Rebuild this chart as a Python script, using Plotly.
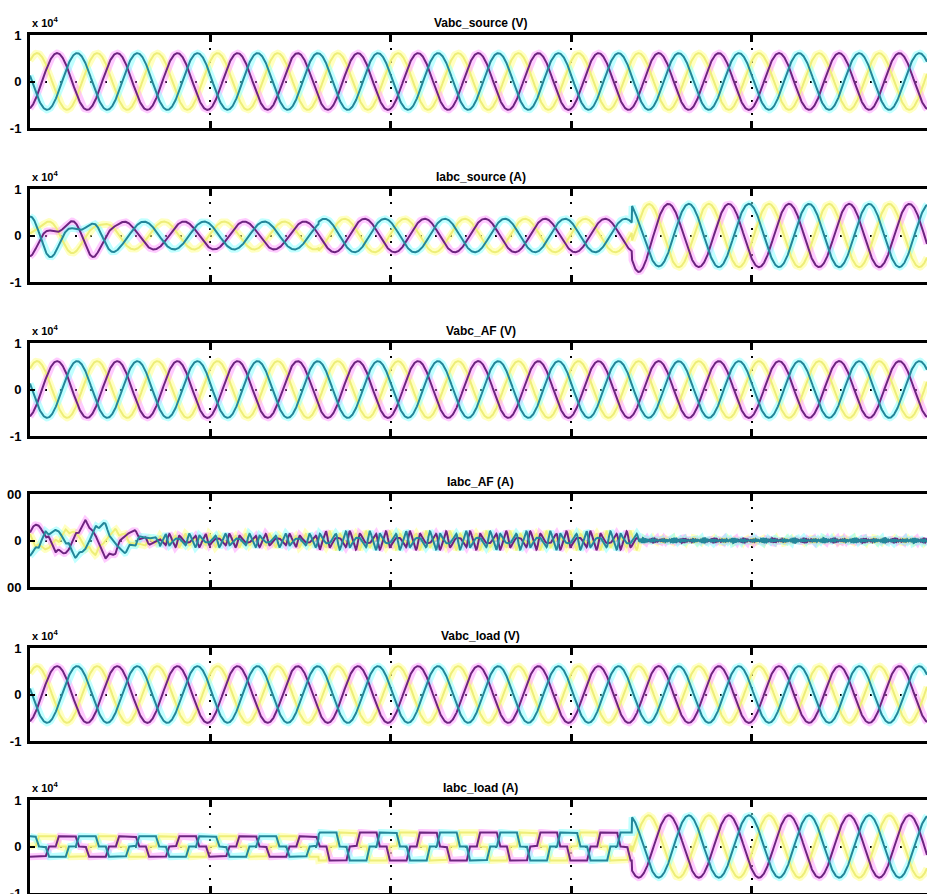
import numpy as np
import plotly.graph_objects as go

# ------------------------------------------------------------------
# Values
# ------------------------------------------------------------------
T_END = 0.2485                      # s, visible end of the time axis
F_GRID = 60                         # Hz (3 cycles per 0.05 s grid cell)
T_STEP = 0.0001
TIME_TICKS = [0.05, 0.10, 0.15, 0.20]

PANEL_TITLES = ["Vabc_source (V)", "Iabc_source (A)", "Vabc_AF (V)",
                "Iabc_AF (A)", "Vabc_load (V)", "Iabc_load (A)"]
PANEL_EXPONENT = ["x 10<sup>4</sup>", "x 10<sup>4</sup>", "x 10<sup>4</sup>",
                  "", "x 10<sup>4</sup>", "x 10<sup>4</sup>"]
Y_TICK_VALS = [-1, 0, 1]
Y_TICK_TEXT = ["-1", "0", "1"]
AF_RANGE = 1000                     # A, Iabc_AF axis limits (labels clipped)
AF_TICK_TEXT = ["00", "0", "00"]

# phase angles at t = 0 (deg) for phase a (yellow), b (magenta), c (cyan)
PHASE_DEG = [48, -72, -192]

# voltages (x 1e4 V) - source, filter and load voltages are identical
V_AMP = 0.61

# source current (x 1e4 A): amplitude / lag per time segment
ISRC_SEG_T = [0.0, 0.080, 0.1668, 0.2485]
ISRC_SEG_AMP = [0.30, 0.36, 0.68]
ISRC_SEG_LAG = [40, 40, 60]
# start-up transient on the source current (per phase amplitude / phase)
ISRC_TR_AMP = [0.10, 0.20, 0.20]
ISRC_TR_PHASE = [180, -60, 60]
ISRC_TR_FREQ = 110
ISRC_TR_ENV_T = [0.0, 0.018, 0.026]
ISRC_TR_ENV = [1.0, 0.8, 0.0]
# small disturbance at the load change
ISRC_SW_T0 = 0.1668
ISRC_SW_AMP = [0.06, 0.18, 0.10]
ISRC_SW_FREQ = 100
ISRC_SW_TAU = 0.004

# load current (x 1e4 A)
ILOAD_SEG_T = [0.0, 0.080, 0.1668, 0.2485]
ILOAD_SEG_AMP = [0.22, 0.30, 0.67]
ILOAD_SEG_KIND = ["step", "step", "sine"]
ILOAD_LAG = 60
# one period of the stepped (six-pulse) load current
STEP_DEG = [0, 22, 38, 142, 158, 202, 218, 322, 338, 360]
STEP_LEVEL = [0, 0, 1, 1, 0, 0, -1, -1, 0, 0]

# active-filter current (A): harmonic ripple and start-up transient
AF_HARM_ORDER = [5, 7, 11, 13]
AF_HARM_AMP = [120, 70, 22, 16]
AF_HARM_PHASE = [180, 180, 0, 0]
AF_RIPPLE_SEG_T = [0.0, 0.036, 0.080, 0.1685, 0.2485]
AF_RIPPLE_SCALE = [0.35, 0.72, 1.0, 0.0]
AF_RESID_ORDER = [23, 25, 29, 31]
AF_RESID_AMP = [20, 18, 12, 10]
AF_RESID_SEG_T = [0.0, 0.1685, 0.2485]
AF_RESID_SCALE = [0.0, 1.0]
AF_TR_AMP = [260, 400, 360]
AF_TR_FREQ = 75
AF_TR_ENV_T = [0.0, 0.006, 0.012, 0.020, 0.028, 0.036]
AF_TR_ENV = [0.9, 0.55, 0.85, 1.0, 0.5, 0.0]

# panel frame positions (pixels from top of the 894 px page)
PANEL_TOP_PX = [35, 189, 343, 494, 648, 800]
PANEL_H_PX = 93

COLOR_HALO = ["rgba(255,255,140,0.55)", "rgba(255,140,255,0.45)", "rgba(130,255,255,0.5)"]
COLOR_CORE = ["#eeee78", "#6e2480", "#23879a"]

# ------------------------------------------------------------------
W, H = 927, 894
t = np.arange(0.0, T_END + T_STEP, T_STEP)
w = 2 * np.pi * F_GRID


def seg_value(seg_t, seg_vals):
    idx = np.clip(np.searchsorted(seg_t, t, side="right") - 1, 0, len(seg_vals) - 1)
    return np.asarray(seg_vals, dtype=float)[idx]


def phase_angle(k):
    return w * t + np.deg2rad(PHASE_DEG[k])


def voltage(k):
    return V_AMP * np.sin(phase_angle(k))


def source_current(k):
    amp = seg_value(ISRC_SEG_T, ISRC_SEG_AMP)
    lag = np.deg2rad(seg_value(ISRC_SEG_T, ISRC_SEG_LAG))
    y = amp * np.sin(phase_angle(k) - lag)
    env = np.interp(t, ISRC_TR_ENV_T, ISRC_TR_ENV)
    y = y + ISRC_TR_AMP[k] * env * np.sin(2 * np.pi * ISRC_TR_FREQ * t
                                          + np.deg2rad(ISRC_TR_PHASE[k]))
    dt = np.clip(t - ISRC_SW_T0, 0, None)
    on = (t >= ISRC_SW_T0)
    y = y - on * ISRC_SW_AMP[k] * np.exp(-dt / ISRC_SW_TAU) * \
        np.sin(2 * np.pi * ISRC_SW_FREQ * dt)
    return y


def load_current(k):
    amp = seg_value(ILOAD_SEG_T, ILOAD_SEG_AMP)
    kind = seg_value(ILOAD_SEG_T, [1.0 if s == "step" else 0.0 for s in ILOAD_SEG_KIND])
    theta = np.rad2deg(phase_angle(k)) - ILOAD_LAG
    stepped = np.interp(np.mod(theta, 360.0), STEP_DEG, STEP_LEVEL)
    sine = np.sin(np.deg2rad(theta))
    return amp * np.where(kind > 0.5, stepped, sine)


def af_current(k):
    theta = phase_angle(k) - np.deg2rad(ILOAD_LAG)
    ripple = sum(a * np.sin(h * theta + np.deg2rad(p))
                 for h, a, p in zip(AF_HARM_ORDER, AF_HARM_AMP, AF_HARM_PHASE))
    resid = sum(a * np.sin(h * theta)
                for h, a in zip(AF_RESID_ORDER, AF_RESID_AMP))
    env = np.interp(t, AF_TR_ENV_T, AF_TR_ENV)
    trans = AF_TR_AMP[k] * env * np.sin(2 * np.pi * AF_TR_FREQ * t + np.deg2rad(PHASE_DEG[k]) + 1.9)
    return (seg_value(AF_RIPPLE_SEG_T, AF_RIPPLE_SCALE) * ripple
            + seg_value(AF_RESID_SEG_T, AF_RESID_SCALE) * resid + trans)


PANEL_SIGNALS = [voltage, source_current, voltage, af_current, voltage, load_current]

fig = go.Figure()
layout = dict(
    width=W, height=H,
    margin=dict(l=30, r=0, t=0, b=0, pad=0, autoexpand=False),
    paper_bgcolor="white", plot_bgcolor="white",
    showlegend=False,
    font=dict(family="Liberation Sans, Arial, sans-serif", color="black"),
    annotations=[],
)

for i, (title, signal) in enumerate(zip(PANEL_TITLES, PANEL_SIGNALS)):
    n = i + 1
    xa = "x" if n == 1 else f"x{n}"
    ya = "y" if n == 1 else f"y{n}"
    top = PANEL_TOP_PX[i]
    bot = top + PANEL_H_PX
    dom = [1 - bot / H, 1 - top / H]
    is_af = signal is af_current
    yr = AF_RANGE if is_af else 1.0

    curves = [signal(k) for k in range(3)]
    for k in range(3):
        fig.add_trace(go.Scatter(x=t, y=curves[k], xaxis=xa, yaxis=ya, mode="lines",
                                 line=dict(color=COLOR_HALO[k], width=7),
                                 hoverinfo="skip"))
    for k in range(3):
        fig.add_trace(go.Scatter(x=t, y=curves[k], xaxis=xa, yaxis=ya, mode="lines",
                                 line=dict(color=COLOR_CORE[k], width=2),
                                 hoverinfo="skip"))

    layout["xaxis" if n == 1 else f"xaxis{n}"] = dict(
        domain=[0, 1], anchor=ya, range=[0, T_END], automargin=False,
        showline=True, linewidth=3, linecolor="black", mirror="ticks",
        ticks="inside", ticklen=7, tickwidth=2.5, tickcolor="black",
        tickvals=TIME_TICKS, showticklabels=False,
        showgrid=True, gridcolor="black", gridwidth=1.6, griddash="2px,11px",
        zeroline=False, fixedrange=True,
    )
    layout["yaxis" if n == 1 else f"yaxis{n}"] = dict(
        domain=dom, anchor=xa, range=[-yr, yr], automargin=False,
        showline=True, linewidth=3, linecolor="black", mirror=False,
        ticks="inside", ticklen=5, tickwidth=2, tickcolor="black",
        tickvals=[v * yr for v in Y_TICK_VALS],
        ticktext=AF_TICK_TEXT if is_af else Y_TICK_TEXT,
        tickfont=dict(size=13, weight="bold", color="black"),
        ticklabelstandoff=3, ticklabeloverflow="allow",
        showgrid=True, gridcolor="black", gridwidth=1.6, griddash="2px,13px",
        zeroline=False, fixedrange=True,
    )
    layout["annotations"].append(dict(
        text=title, xref="paper", yref="paper",
        x=(481 - 30) / (W - 30), y=1 - (top - 12) / H,
        xanchor="center", yanchor="middle", showarrow=False,
        font=dict(size=12, weight="bold", color="black"),
    ))
    if PANEL_EXPONENT[i]:
        layout["annotations"].append(dict(
            text=PANEL_EXPONENT[i], xref="paper", yref="paper",
            x=0.0, y=1 - (top - 4) / H,
            xanchor="left", yanchor="bottom", showarrow=False,
            font=dict(size=11, weight="bold", color="black"),
        ))

fig.update_layout(**layout)
fig.write_html("out.html", config={"displayModeBar": False},
               post_script="document.body.style.margin='0';"
                           "document.body.style.overflow='hidden';")
